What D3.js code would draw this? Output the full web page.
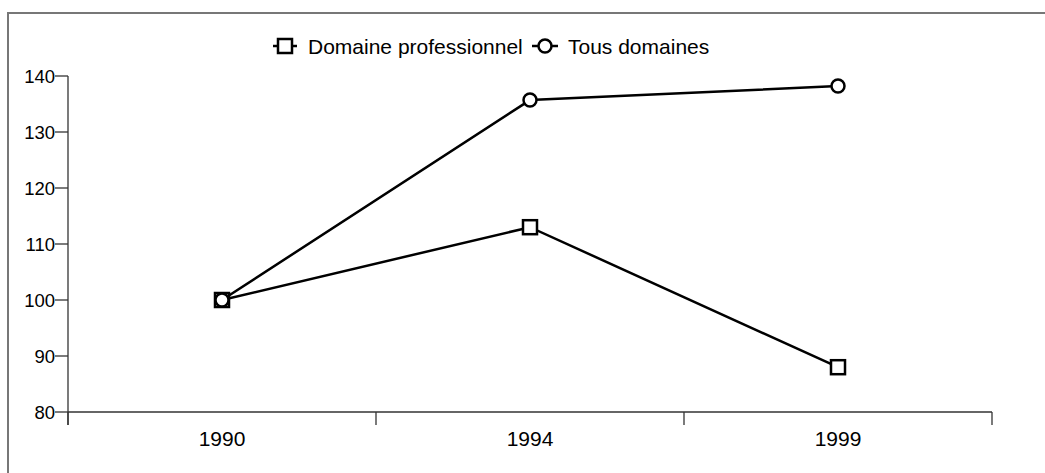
<!DOCTYPE html>
<html><head><meta charset="utf-8">
<script src="https://cdn.jsdelivr.net/npm/d3@7"></script>
<style>body{margin:0;background:#fff}svg{display:block}text{font-family:"Liberation Sans",Arial,sans-serif;fill:#000}</style>
</head><body><svg width="1045" height="473"></svg>
<script>
const years = ["1990","1994","1999"];
const pro = [100, 113, 88];
const tous = [100, 135.7, 138.2];
const yTicks = [80, 90, 100, 110, 120, 130, 140];
const seriesNames = ["Domaine professionnel","Tous domaines"];

const svg = d3.select("svg");
svg.append("rect").attr("x",8).attr("y",13).attr("width",1045).attr("height",480)
  .attr("fill","none").attr("stroke","#777").attr("stroke-width",2);

const x = d3.scaleBand().domain(years).range([68,992]).padding(0);
const y = d3.scaleLinear().domain([80,140]).range([412,76]);

const ya = svg.append("g");
ya.append("line").attr("x1",68).attr("x2",68).attr("y1",y(140)).attr("y2",425).attr("stroke","#333").attr("stroke-width",1.3);
yTicks.forEach(t=>{
  ya.append("line").attr("x1",55).attr("x2",68).attr("y1",y(t)).attr("y2",y(t)).attr("stroke","#333").attr("stroke-width",1.3);
  ya.append("text").attr("x",55).attr("y",y(t)).attr("dy","0.36em").attr("text-anchor","end").style("font-size","18.5px").text(t);
});
const xa = svg.append("g");
xa.append("line").attr("x1",68).attr("x2",992).attr("y1",y(80)).attr("y2",y(80)).attr("stroke","#333").attr("stroke-width",1.3);
const edges = years.map(d=>x(d)).concat([x(years[years.length-1])+x.bandwidth()]);
edges.forEach(e=>{
  xa.append("line").attr("x1",e).attr("x2",e).attr("y1",y(80)).attr("y2",425).attr("stroke","#333").attr("stroke-width",1.3);
});
years.forEach(d=>{
  xa.append("text").attr("x",x(d)+x.bandwidth()/2).attr("y",446).attr("text-anchor","middle").style("font-size","21px").text(d);
});

const cx = d=>x(d)+x.bandwidth()/2;
const line = d3.line().x((v,i)=>cx(years[i])).y(v=>y(v));
[pro,tous].forEach(s=>{
  svg.append("path").attr("d",line(s)).attr("fill","none").attr("stroke","#000").attr("stroke-width",2.5);
});
function square(g,px,py){g.append("rect").attr("x",px-7).attr("y",py-7).attr("width",14).attr("height",14).attr("fill","#fff").attr("stroke","#000").attr("stroke-width",2.5);}
function circle(g,px,py){g.append("circle").attr("cx",px).attr("cy",py).attr("r",6.5).attr("fill","#fff").attr("stroke","#000").attr("stroke-width",2.5);}
pro.forEach((v,i)=>square(svg,cx(years[i]),y(v)));
tous.forEach((v,i)=>circle(svg,cx(years[i]),y(v)));

const lg = svg.append("g");
const ly = 46;
lg.append("line").attr("x1",273).attr("x2",297).attr("y1",ly).attr("y2",ly).attr("stroke","#000").attr("stroke-width",2.5);
square(lg,285,ly);
lg.append("text").attr("x",308).attr("y",ly).attr("dy","0.36em").style("font-size","21px").text(seriesNames[0]);
lg.append("line").attr("x1",532).attr("x2",558).attr("y1",ly).attr("y2",ly).attr("stroke","#000").attr("stroke-width",2.5);
circle(lg,545,ly);
lg.append("text").attr("x",568).attr("y",ly).attr("dy","0.36em").style("font-size","21px").text(seriesNames[1]);
</script></body></html>
